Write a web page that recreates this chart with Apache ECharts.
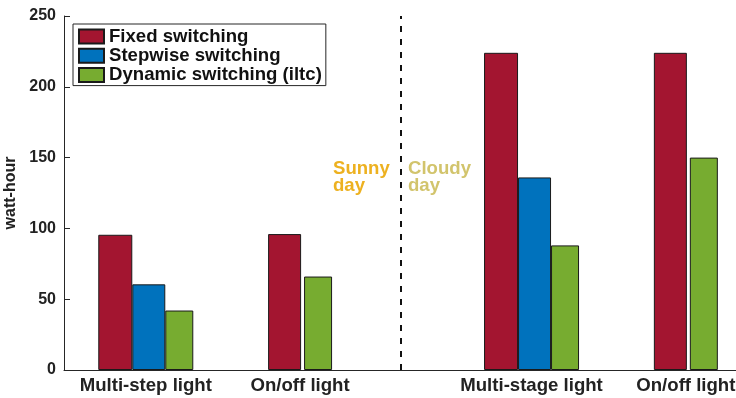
<!DOCTYPE html>
<html>
<head>
<meta charset="utf-8">
<script src="https://cdn.jsdelivr.net/npm/echarts@6/dist/echarts.min.js"></script>
<style>
html,body{margin:0;padding:0;background:#fff;}
#chart{width:736px;height:398px;}
</style>
</head>
<body>
<div id="chart"></div>
<script>
// ---- data ----
const groupNames = ['Multi-step light', 'On/off light', 'Multi-stage light', 'On/off light'];
const groupPos = [1, 2, 3.5, 4.5];
const seriesNames = ['Fixed switching', 'Stepwise switching', 'Dynamic switching (iltc)'];
const fixedVals = [95.5, 96, 224, 224];
const stepwiseVals = [60.5, null, 136, null];
const dynamicVals = [42, 66, 88, 150];
const yTicks = [0, 50, 100, 150, 200, 250];
const dividerPos = 2.65;
const sunnyText = 'Sunny\nday';
const cloudyText = 'Cloudy\nday';

// ---- styles ----
const colors = ['#A31530', '#0072BD', '#77AC30'];
const FONT = "'Liberation Sans', Arial, Helvetica, sans-serif";
const barWidths3 = [34, 33, 28];
const barWidths2 = [33, 28];

function pairs(vals, withStep) {
  const out = [];
  groupPos.forEach((p, i) => {
    const hasStep = stepwiseVals[i] !== null;
    if (hasStep === withStep && vals[i] !== null) out.push([p, vals[i]]);
  });
  return out;
}

const barItem = (c) => ({ color: c, borderColor: '#1a1a1a', borderWidth: 1 });

const series = [
  { name: seriesNames[0], type: 'bar', xAxisIndex: 0, data: pairs(fixedVals, true), barWidth: barWidths3[0], barGap: '0%', itemStyle: barItem(colors[0]) },
  { name: seriesNames[1], type: 'bar', xAxisIndex: 0, data: pairs(stepwiseVals, true), barWidth: barWidths3[1], barGap: '0%', itemStyle: barItem(colors[1]) },
  { name: seriesNames[2], type: 'bar', xAxisIndex: 0, data: pairs(dynamicVals, true), barWidth: barWidths3[2], barGap: '0%', itemStyle: barItem(colors[2]) },
  { name: seriesNames[0], type: 'bar', xAxisIndex: 1, data: pairs(fixedVals, false), barWidth: barWidths2[0], barGap: '9%', itemStyle: barItem(colors[0]) },
  { name: seriesNames[2], type: 'bar', xAxisIndex: 1, data: pairs(dynamicVals, false), barWidth: barWidths2[1], barGap: '9%', itemStyle: barItem(colors[2]) },
  { name: 'divider', type: 'line', xAxisIndex: 0, data: [], silent: true,
    markLine: { silent: true, symbol: 'none', label: { show: false }, animation: false,
      lineStyle: { color: '#111', width: 2, type: [6, 7] },
      data: [{ xAxis: dividerPos }] } }
];

const xMin = 0.47, xMax = 4.825;
const axisLineStyle = { color: '#262626', width: 1 };

const option = {
  animation: false,
  backgroundColor: '#fff',
  grid: { left: 64, right: 0, top: 16, bottom: 28, outerBoundsMode: 'none', containLabel: false },
  legend: {
    orient: 'vertical', left: 73, top: 24,
    data: seriesNames,
    icon: 'rect', itemWidth: 25, itemHeight: 14, itemGap: 0.3,
    padding: [3, 4, 1, 5],
    borderColor: '#262626', borderWidth: 1, backgroundColor: '#fff',
    selectedMode: false,
    textStyle: { fontFamily: FONT, fontWeight: 'bold', fontSize: 18.6, color: '#111', lineHeight: 18 }
  },
  xAxis: [
    { type: 'value', min: xMin, max: xMax, position: 'bottom',
      axisLine: { show: true, lineStyle: axisLineStyle },
      axisTick: { show: false }, splitLine: { show: false },
      axisLabel: { customValues: groupPos, margin: 6, color: '#222', fontFamily: FONT, fontWeight: 'bold', fontSize: 18.6,
        formatter: (v) => { const i = groupPos.findIndex(p => Math.abs(p - v) < 1e-6); return i >= 0 ? groupNames[i] : ''; } } },
    { type: 'value', min: xMin, max: xMax, show: false, splitLine: { show: false } }
  ],
  yAxis: {
    type: 'value', min: yTicks[0], max: yTicks[yTicks.length - 1], interval: yTicks[1] - yTicks[0],
    name: 'watt-hour', nameLocation: 'middle', nameGap: 37,
    nameTextStyle: { fontFamily: FONT, fontWeight: 'bold', fontSize: 16, color: '#222' },
    axisLine: { show: true, lineStyle: axisLineStyle },
    axisTick: { show: true, inside: true, length: 6, lineStyle: axisLineStyle },
    splitLine: { show: false },
    axisLabel: { margin: 8, color: '#222', fontFamily: FONT, fontWeight: 'bold', fontSize: 16 }
  },
  graphic: [
    { type: 'text', left: 333, top: 159, style: { text: sunnyText, fill: '#EDB120', font: "bold 18.6px 'Liberation Sans', Arial, sans-serif", lineHeight: 17 } },
    { type: 'text', left: 408, top: 159, style: { text: cloudyText, fill: '#D2C46C', font: "bold 18.6px 'Liberation Sans', Arial, sans-serif", lineHeight: 17 } }
  ],
  series: series
};

const chart = echarts.init(document.getElementById('chart'), null, { renderer: 'canvas' });
chart.setOption(option);
</script>
</body>
</html>
